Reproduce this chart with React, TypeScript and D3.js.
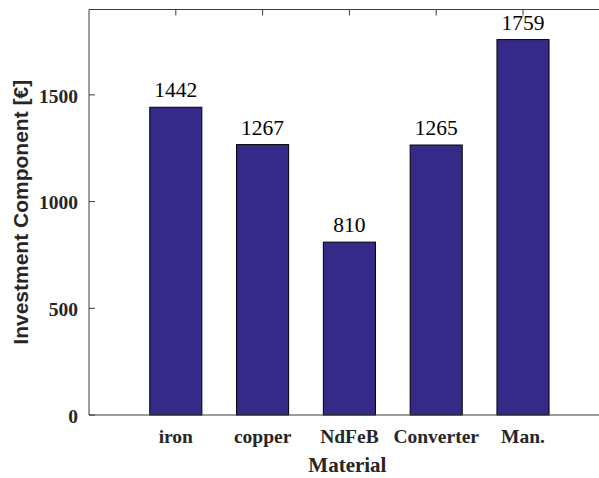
import React from "react";
import * as d3 from "d3";

const categories = ["iron", "copper", "NdFeB", "Converter", "Man."];
const values = [1442, 1267, 810, 1265, 1759];
const yTicks = [0, 500, 1000, 1500];

export default function App() {
  const W = 599, H = 478;
  const left = 89, top = 9.5, bottom = 415;
  const step = 86.8;
  const x = d3.scaleLinear().domain([0, categories.length + 1]).range([left, left + step * (categories.length + 1)]);
  const y = d3.scaleLinear().domain([0, 1900]).range([bottom, top]);
  const bw = step * 0.6;
  const axisColor = "#3a3a3a";
  const serif = "'Liberation Serif', 'Times New Roman', serif";
  const sans = "'Liberation Sans', Arial, sans-serif";
  const right = x(categories.length + 1);

  return (
    <svg width={W} height={H} style={{ position: "absolute", left: 0, top: 0, background: "#fff" }}>
      {values.map((v, i) => (
        <rect key={i} x={x(i + 1) - bw / 2} y={y(v)} width={bw} height={y(0) - y(v)}
          fill="#352A87" stroke="#000" strokeWidth={1} />
      ))}
      <line x1={left} x2={right} y1={top} y2={top} stroke={axisColor} strokeWidth={1} />
      <line x1={left} x2={right} y1={bottom} y2={bottom} stroke={axisColor} strokeWidth={1} />
      <line x1={left} x2={left} y1={top} y2={bottom} stroke={axisColor} strokeWidth={1} />
      {yTicks.map((t) => (
        <g key={t}>
          <line x1={left} x2={left + 6} y1={y(t)} y2={y(t)} stroke={axisColor} strokeWidth={1} />
          <text x={left - 11} y={y(t) + 1} dy="0.35em" textAnchor="end" fontFamily={serif}
            fontWeight="bold" fontSize={19.5} fill="#262626">{t}</text>
        </g>
      ))}
      {categories.map((c, i) => (
        <g key={c}>
          <line x1={x(i + 1)} x2={x(i + 1)} y1={top} y2={top + 6} stroke={axisColor} strokeWidth={1} />
          <text x={x(i + 1)} y={443} textAnchor="middle" fontFamily={serif} fontWeight="bold"
            fontSize={19.5} fill="#262626">{c}</text>
        </g>
      ))}
      {values.map((v, i) => (
        <text key={i} x={x(i + 1)} y={y(v) - 10} textAnchor="middle" fontFamily={serif}
          fontSize={21.5} fill="#000">{v}</text>
      ))}
      <text x={(left + right) / 2 - 2} y={472} textAnchor="middle" fontFamily={serif} fontWeight="bold"
        fontSize={21} fill="#262626">Material</text>
      <text transform={`translate(28, ${(top + bottom) / 2}) rotate(-90)`} textAnchor="middle"
        fontFamily={sans} fontWeight="bold" fontSize={21} fill="#262626">Investment Component [€]</text>
    </svg>
  );
}
